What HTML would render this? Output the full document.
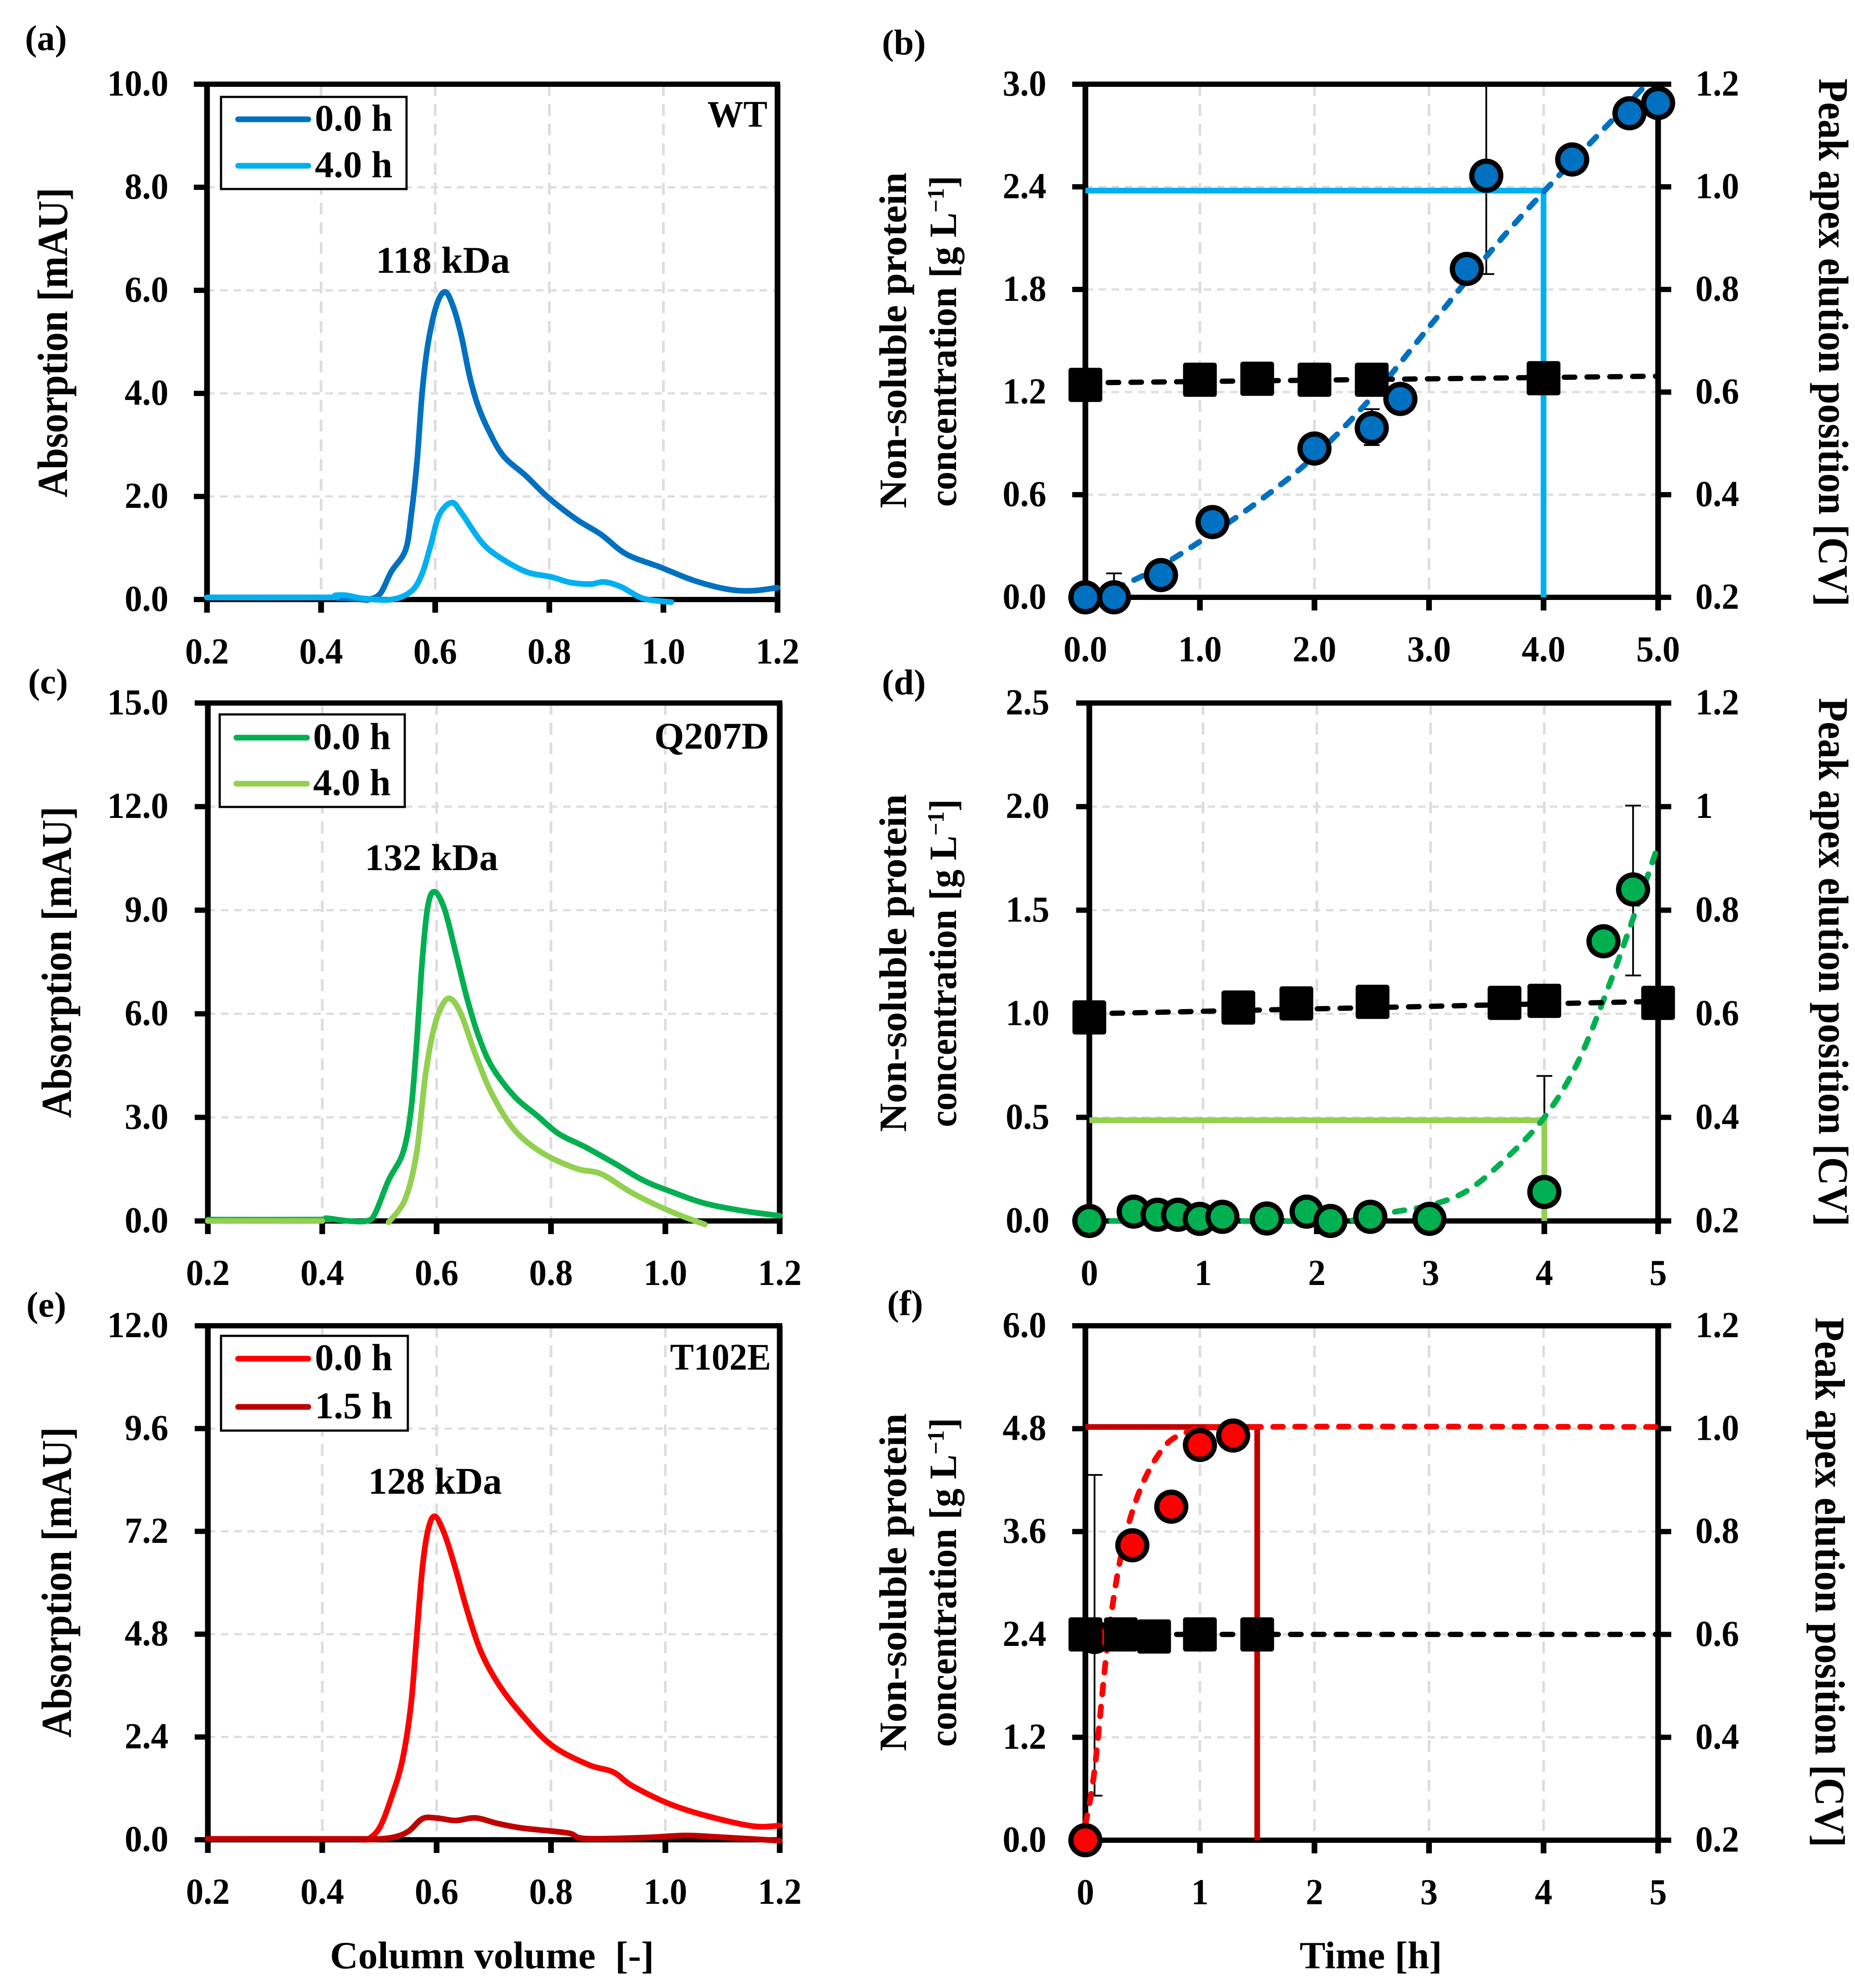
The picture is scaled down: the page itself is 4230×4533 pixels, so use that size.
<!DOCTYPE html>
<html lang="en">
<head>
<meta charset="utf-8">
<title>Protein aggregation chromatograms and kinetics</title>
<style>
html,body{margin:0;padding:0;background:#fff;}
svg{display:block;}
text{font-family:"Liberation Serif",serif;font-weight:bold;fill:#000;}
</style>
</head>
<body>
<svg id="figure" xmlns="http://www.w3.org/2000/svg" width="4230" height="4533" viewBox="0 0 4230 4533">
  <rect width="4230" height="4533" fill="#fff"/>
  <g id="plots"></g>

  <g font-size="82">
    <text x="57" y="114">(a)</text>
    <text x="2011" y="124">(b)</text>
    <text x="64" y="1581">(c)</text>
    <text x="2011" y="1583">(d)</text>
    <text x="60" y="3002">(e)</text>
    <text x="2023" y="2999">(f)</text>
  </g>

  <g>
    <rect x="504" y="221" width="423" height="210" fill="#fff" stroke="#000" stroke-width="5"/>
    <line x1="543" y1="272" x2="703" y2="272" stroke="#0070c0" stroke-width="13" stroke-linecap="round"/>
    <text x="718" y="298" font-size="86">0.0 h</text>
    <line x1="543" y1="378" x2="703" y2="378" stroke="#00b0f0" stroke-width="13" stroke-linecap="round"/>
    <text x="718" y="404" font-size="86">4.0 h</text>
  </g>
  <g>
    <rect x="501" y="1629" width="422" height="211" fill="#fff" stroke="#000" stroke-width="5"/>
    <line x1="539" y1="1682" x2="700" y2="1682" stroke="#00b050" stroke-width="13" stroke-linecap="round"/>
    <text x="714" y="1708" font-size="86">0.0 h</text>
    <line x1="539" y1="1787" x2="700" y2="1787" stroke="#92d050" stroke-width="13" stroke-linecap="round"/>
    <text x="714" y="1813" font-size="86">4.0 h</text>
  </g>
  <g>
    <rect x="504" y="3046" width="426" height="216" fill="#fff" stroke="#000" stroke-width="5"/>
    <line x1="543" y1="3098" x2="703" y2="3098" stroke="#ff0000" stroke-width="13" stroke-linecap="round"/>
    <text x="718" y="3124" font-size="86">0.0 h</text>
    <line x1="543" y1="3208" x2="703" y2="3208" stroke="#c00000" stroke-width="13" stroke-linecap="round"/>
    <text x="718" y="3234" font-size="86">1.5 h</text>
  </g>

  <g font-size="86">
    <text x="1750" y="289" text-anchor="end" textLength="137" lengthAdjust="spacingAndGlyphs">WT</text>
    <text x="1754" y="1707" text-anchor="end" textLength="262" lengthAdjust="spacingAndGlyphs">Q207D</text>
    <text x="1758" y="3123" text-anchor="end" textLength="230" lengthAdjust="spacingAndGlyphs">T102E</text>
    <text x="1010" y="622" text-anchor="middle" textLength="306" lengthAdjust="spacingAndGlyphs">118 kDa</text>
    <text x="984" y="1984" text-anchor="middle" textLength="304" lengthAdjust="spacingAndGlyphs">132 kDa</text>
    <text x="992" y="3406" text-anchor="middle" textLength="305" lengthAdjust="spacingAndGlyphs">128 kDa</text>
  </g>

  <g>
    <text transform="translate(153,781) rotate(-90)" text-anchor="middle" font-size="97" textLength="706" lengthAdjust="spacingAndGlyphs">Absorption [mAU]</text>
    <text transform="translate(162,2194) rotate(-90)" text-anchor="middle" font-size="97" textLength="710" lengthAdjust="spacingAndGlyphs">Absorption [mAU]</text>
    <text transform="translate(162,3608) rotate(-90)" text-anchor="middle" font-size="97" textLength="708" lengthAdjust="spacingAndGlyphs">Absorption [mAU]</text>

    <text transform="translate(2066,776) rotate(-90)" text-anchor="middle" font-size="88" textLength="766" lengthAdjust="spacingAndGlyphs">Non-soluble protein</text>
    <text transform="translate(2180,778) rotate(-90)" text-anchor="middle" font-size="88" textLength="755" lengthAdjust="spacingAndGlyphs">concentration [g L<tspan font-size="54" dy="-28">−1</tspan><tspan dy="28">]</tspan></text>
    <text transform="translate(2066,2196) rotate(-90)" text-anchor="middle" font-size="88" textLength="770" lengthAdjust="spacingAndGlyphs">Non-soluble protein</text>
    <text transform="translate(2180,2196) rotate(-90)" text-anchor="middle" font-size="88" textLength="748" lengthAdjust="spacingAndGlyphs">concentration [g L<tspan font-size="54" dy="-28">−1</tspan><tspan dy="28">]</tspan></text>
    <text transform="translate(2066,3608) rotate(-90)" text-anchor="middle" font-size="88" textLength="770" lengthAdjust="spacingAndGlyphs">Non-soluble protein</text>
    <text transform="translate(2180,3608) rotate(-90)" text-anchor="middle" font-size="88" textLength="750" lengthAdjust="spacingAndGlyphs">concentration [g L<tspan font-size="54" dy="-28">−1</tspan><tspan dy="28">]</tspan></text>

    <text transform="translate(4148,781) rotate(90)" text-anchor="middle" font-size="96" textLength="1204" lengthAdjust="spacingAndGlyphs">Peak apex elution position [CV]</text>
    <text transform="translate(4148,2194) rotate(90)" text-anchor="middle" font-size="96" textLength="1205" lengthAdjust="spacingAndGlyphs">Peak apex elution position [CV]</text>
    <text transform="translate(4140,3608) rotate(90)" text-anchor="middle" font-size="96" textLength="1208" lengthAdjust="spacingAndGlyphs">Peak apex elution position [CV]</text>

    <text x="1122" y="4488" text-anchor="middle" font-size="88" textLength="739" lengthAdjust="spacingAndGlyphs" xml:space="preserve">Column volume  [-]</text>
    <text x="3126" y="4488" text-anchor="middle" font-size="88" textLength="325" lengthAdjust="spacingAndGlyphs">Time [h]</text>
  </g>
</svg>

<script>
// ---------- Shared tick data ----------
const cvTicks = [0.2, 0.4, 0.6, 0.8, 1.0, 1.2];
const cvTickLabels = ['0.2', '0.4', '0.6', '0.8', '1.0', '1.2'];
const timeTicks = [0, 1, 2, 3, 4, 5];
const timeTickLabelsDecimal = ['0.0', '1.0', '2.0', '3.0', '4.0', '5.0'];
const timeTickLabelsInteger = ['0', '1', '2', '3', '4', '5'];
const peakTicks = [0.2, 0.4, 0.6, 0.8, 1.0, 1.2];
const peakTickLabels = ['0.2', '0.4', '0.6', '0.8', '1.0', '1.2'];
const peakTickLabelsD = ['0.2', '0.4', '0.6', '0.8', '1', '1.2'];

// ---------- Panel (a) ----------
const aYTicks = [0, 2, 4, 6, 8, 10];
const aYTickLabels = ['0.0', '2.0', '4.0', '6.0', '8.0', '10.0'];
const aCurve0X = [0.2, 0.4, 0.43, 0.47, 0.484, 0.504, 0.523, 0.548, 0.558, 0.568, 0.577, 0.587, 0.602, 0.617, 0.631, 0.646, 0.66, 0.675, 0.695, 0.72, 0.759, 0.798, 0.847, 0.891, 0.935, 0.994, 1.053, 1.112, 1.156, 1.2];
const aCurve0Y = [0.04, 0.04, 0.03, 0, 0, 0.12, 0.54, 0.96, 1.64, 2.66, 4.0, 4.94, 5.7, 5.97, 5.7, 5.11, 4.35, 3.76, 3.25, 2.78, 2.4, 1.98, 1.56, 1.26, 0.88, 0.63, 0.37, 0.2, 0.17, 0.23];
const aCurve4X = [0.2, 0.41, 0.425, 0.445, 0.475, 0.523, 0.558, 0.577, 0.592, 0.607, 0.629, 0.646, 0.68, 0.71, 0.759, 0.803, 0.837, 0.872, 0.896, 0.925, 0.965, 1.014];
const aCurve4Y = [0.04, 0.04, 0.08, 0.08, 0.02, 0, 0.16, 0.5, 1.05, 1.64, 1.88, 1.68, 1.13, 0.84, 0.54, 0.44, 0.33, 0.3, 0.34, 0.25, 0.02, -0.05];

// ---------- Panel (c) ----------
const cYTicks = [0, 3, 6, 9, 12, 15];
const cYTickLabels = ['0.0', '3.0', '6.0', '9.0', '12.0', '15.0'];
const cCurve0X = [0.2, 0.4, 0.407, 0.446, 0.477, 0.492, 0.516, 0.541, 0.555, 0.565, 0.575, 0.585, 0.597, 0.614, 0.633, 0.653, 0.673, 0.697, 0.736, 0.775, 0.814, 0.859, 0.912, 0.961, 1.01, 1.069, 1.137, 1.2];
const cCurve0Y = [0.04, 0.04, 0.08, 0, 0, 0.2, 1.18, 1.97, 3.18, 5.13, 7.56, 9.14, 9.53, 9.02, 7.8, 6.46, 5.37, 4.46, 3.61, 3.06, 2.52, 2.15, 1.66, 1.18, 0.85, 0.51, 0.29, 0.15];
const cCurve4X = [0.2, 0.4, 0.4, 0.516, 0.545, 0.565, 0.58, 0.594, 0.609, 0.624, 0.643, 0.668, 0.697, 0.736, 0.785, 0.844, 0.888, 0.942, 1.01, 1.069];
const cCurve4Y = [0, 0, null, -0.04, 0.63, 1.97, 4.16, 5.49, 6.22, 6.44, 5.98, 4.82, 3.67, 2.64, 1.97, 1.52, 1.36, 0.81, 0.27, -0.1];

// ---------- Panel (e) ----------
const eYTicks = [0, 2.4, 4.8, 7.2, 9.6, 12];
const eYTickLabels = ['0.0', '2.4', '4.8', '7.2', '9.6', '12.0'];
const eCurve0X = [0.2, 0.47, 0.482, 0.501, 0.521, 0.54, 0.555, 0.565, 0.575, 0.585, 0.597, 0.614, 0.633, 0.653, 0.677, 0.707, 0.746, 0.8, 0.864, 0.909, 0.942, 1.005, 1.069, 1.152, 1.2];
const eCurve0Y = [0.02, 0.02, 0.03, 0.3, 0.99, 1.85, 3.13, 4.73, 6.33, 7.23, 7.55, 7.13, 6.33, 5.37, 4.41, 3.66, 2.97, 2.22, 1.76, 1.58, 1.26, 0.85, 0.57, 0.32, 0.33];
const eCurve15X = [0.2, 0.46, 0.472, 0.521, 0.55, 0.575, 0.599, 0.633, 0.668, 0.707, 0.751, 0.829, 0.859, 0.961, 1.035, 1.098, 1.2];
const eCurve15Y = [0.02, 0.02, 0, 0.05, 0.19, 0.49, 0.51, 0.45, 0.51, 0.38, 0.27, 0.16, 0.03, 0.05, 0.1, 0.06, -0.02];

// ---------- Panel (b) ----------
const bYTicks = [0, 0.6, 1.2, 1.8, 2.4, 3.0];
const bYTickLabels = ['0.0', '0.6', '1.2', '1.8', '2.4', '3.0'];
const bConcTime = [0, 0.25, 0.66, 1.11, 2, 2.5, 2.75, 3.33, 3.5, 4.25, 4.75, 5];
const bConc = [0, 0, 0.13, 0.44, 0.87, 0.99, 1.16, 1.92, 2.465, 2.56, 2.83, 2.89];
const bErrTime = [0.25, 2, 2.5, 3.5];
const bErrHigh = [0.14, 0.9, 1.1, 3.04];
const bErrLow = [0, 0.84, 0.89, 1.89];
const bFitTime = [0.25, 0.6, 1.1, 1.55, 2, 2.5, 3, 3.56, 4, 4.5, 4.9];
const bFit = [0.05, 0.16, 0.37, 0.58, 0.825, 1.17, 1.58, 2.04, 2.37, 2.72, 3.0];
const bPeakTime = [0, 1, 1.5, 2, 2.5, 4];
const bPeak = [0.614, 0.624, 0.626, 0.624, 0.624, 0.627];
const bPeakFitTime = [0, 5];
const bPeakFit = [0.618, 0.631];
const bMarkerTime = [4];
const bMarkerConc = [2.378];

// ---------- Panel (d) ----------
const dYTicks = [0, 0.5, 1.0, 1.5, 2.0, 2.5];
const dYTickLabels = ['0.0', '0.5', '1.0', '1.5', '2.0', '2.5'];
const dConcTime = [0, 0.39, 0.6, 0.78, 0.97, 1.17, 1.56, 1.91, 2.12, 2.47, 2.99, 4, 4.52, 4.78];
const dConc = [0, 0.045, 0.03, 0.03, 0.01, 0.02, 0.012, 0.045, 0, 0.02, 0.01, 0.14, 1.35, 1.6];
const dErrTime = [4, 4.78];
const dErrHigh = [0.7, 2.005];
const dErrLow = [0.14, 1.185];
const dFitTime = [0, 1, 2, 2.5, 2.65, 2.99, 3.32, 3.66, 4, 4.28, 4.53, 4.78, 5.01];
const dFit = [0, 0, 0, 0.01, 0.04, 0.075, 0.145, 0.3, 0.5, 0.75, 1.08, 1.46, 1.83];
const dPeakTime = [0, 1.31, 1.82, 2.49, 3.65, 4, 5];
const dPeak = [0.593, 0.612, 0.62, 0.623, 0.621, 0.625, 0.621];
const dPeakFitTime = [0, 5];
const dPeakFit = [0.6, 0.624];
const dMarkerTime = [4];
const dMarkerConc = [0.486];

// ---------- Panel (f) ----------
const fYTicks = [0, 1.2, 2.4, 3.6, 4.8, 6.0];
const fYTickLabels = ['0.0', '1.2', '2.4', '3.6', '4.8', '6.0'];
const fConcTime = [0, 0.08, 0.41, 0.75, 1, 1.29];
const fConc = [0, 2.37, 3.44, 3.89, 4.61, 4.72];
const fErrTime = [0.08];
const fErrHigh = [4.26];
const fErrLow = [0.52];
const fFitTime = [0, 0.08, 0.22, 0.38, 0.61, 0.89, 1.5, 5];
const fFit = [0.18, 0.82, 2.58, 3.7, 4.44, 4.76, 4.82, 4.82];
const fPeakTime = [0, 0.31, 0.6, 1, 1.5];
const fPeak = [0.6, 0.6, 0.596, 0.6, 0.6];
const fPeakFitTime = [0, 5];
const fPeakFit = [0.6, 0.6];
const fMarkerTime = [1.5];
const fMarkerConc = [4.82];

// ---------- Drawing helpers ----------
const NS = 'http://www.w3.org/2000/svg';
const plots = document.getElementById('plots');

function make(parent, tag, attrs) {
  const el = document.createElementNS(NS, tag);
  for (const k in attrs) el.setAttribute(k, attrs[k]);
  parent.appendChild(el);
  return el;
}
function scale(d0, d1, r0, r1) {
  return function (v) { return r0 + (v - d0) / (d1 - d0) * (r1 - r0); };
}
function smoothPath(xs, ys, sx, sy) {
  let d = '';
  let run = [];
  function flush() {
    if (!run.length) return;
    d += 'M' + run[0][0].toFixed(1) + ' ' + run[0][1].toFixed(1);
    for (let i = 0; i < run.length - 1; i++) {
      const p0 = run[Math.max(i - 1, 0)], p1 = run[i], p2 = run[i + 1], p3 = run[Math.min(i + 2, run.length - 1)];
      const c1x = p1[0] + (p2[0] - p0[0]) / 6, c1y = p1[1] + (p2[1] - p0[1]) / 6;
      const c2x = p2[0] - (p3[0] - p1[0]) / 6, c2y = p2[1] - (p3[1] - p1[1]) / 6;
      d += 'C' + c1x.toFixed(1) + ' ' + c1y.toFixed(1) + ' ' + c2x.toFixed(1) + ' ' + c2y.toFixed(1) + ' ' + p2[0].toFixed(1) + ' ' + p2[1].toFixed(1);
    }
    run = [];
  }
  for (let i = 0; i < xs.length; i++) {
    if (ys[i] === null) { flush(); continue; }
    run.push([sx(xs[i]), sy(ys[i])]);
  }
  flush();
  return d;
}

function drawFrame(g, f, xTicks, xLabels, yTicks, yLabels, sx, sy, opts) {
  // gridlines
  yTicks.slice(1, -1).forEach(function (v) {
    const el = make(g, 'line', { x1: f.l, x2: f.r, y1: sy(v), y2: sy(v), stroke: '#dddddd', 'stroke-width': 5, 'stroke-dasharray': '17 13' });
    
    
  });
  xTicks.slice(1, -1).forEach(function (v) {
    const el = make(g, 'line', { x1: sx(v), x2: sx(v), y1: f.t, y2: f.b, stroke: '#dddddd', 'stroke-width': 6, 'stroke-dasharray': '27 18' });
    
    
  });
  // axis spines
  const overhangRight = opts.rightAxis ? 30 : 6;
  const top = make(g, 'line', { x1: f.l - 30, x2: f.r + overhangRight, y1: f.t, y2: f.t, stroke: '#000', 'stroke-width': 12 });
  
  
  const bottom = make(g, 'line', { x1: f.l - 30, x2: f.r + overhangRight, y1: f.b, y2: f.b, stroke: '#000', 'stroke-width': 12 });
  
  
  const left = make(g, 'line', { x1: f.l, x2: f.l, y1: f.t, y2: f.b + 30, stroke: '#000', 'stroke-width': 13 });
  
  
  const right = make(g, 'line', { x1: f.r, x2: f.r, y1: f.t, y2: f.b + 30, stroke: '#000', 'stroke-width': 13 });
  
  
  // ticks & labels
  yTicks.forEach(function (v, i) {
    const t = make(g, 'line', { x1: f.l - 30, x2: f.l, y1: sy(v), y2: sy(v), stroke: '#000', 'stroke-width': 12 });
    
    
    const lab = make(g, 'text', { transform: 'translate(' + opts.yLabelX + ' ' + (sy(v) + 26) + ') scale(0.95 1)', 'text-anchor': 'end', 'font-size': 84 });
    lab.textContent = yLabels[i];
    
    
  });
  xTicks.forEach(function (v, i) {
    const t = make(g, 'line', { x1: sx(v), x2: sx(v), y1: f.b, y2: f.b + 30, stroke: '#000', 'stroke-width': 13 });
    
    
    const lab = make(g, 'text', { transform: 'translate(' + sx(v) + ' ' + (f.b + 146) + ') scale(0.95 1)', 'text-anchor': 'middle', 'font-size': 84 });
    lab.textContent = xLabels[i];
    
    
  });
}

function drawChromatogram(name, f, yTicks, yLabels, series) {
  const g = make(plots, 'g', {});
  
  
  const sx = scale(cvTicks[0], cvTicks[cvTicks.length - 1], f.l, f.r);
  const sy = scale(yTicks[0], yTicks[yTicks.length - 1], f.b, f.t);
  drawFrame(g, f, cvTicks, cvTickLabels, yTicks, yLabels, sx, sy, { rightAxis: false, yLabelX: 384 });
  series.forEach(function (s) {
    const p = make(g, 'path', { d: smoothPath(s.x, s.y, sx, sy), fill: 'none', stroke: s.color, 'stroke-width': 13, 'stroke-linejoin': 'round', 'stroke-linecap': 'round' });
    
    
  });
}

let clipCount = 0;
function drawKinetics(name, f, cfg) {
  const g = make(plots, 'g', {});
  
  
  const sx = scale(timeTicks[0], timeTicks[timeTicks.length - 1], f.l, f.r);
  const sy = scale(cfg.yTicks[0], cfg.yTicks[cfg.yTicks.length - 1], f.b, f.t);
  const sr = scale(peakTicks[0], peakTicks[peakTicks.length - 1], f.b, f.t);
  drawFrame(g, f, timeTicks, cfg.xLabels, cfg.yTicks, cfg.yLabels, sx, sy, { rightAxis: true, yLabelX: cfg.yLabelX });

  // right axis
  peakTicks.forEach(function (v, i) {
    const t = make(g, 'line', { x1: f.r, x2: f.r + 30, y1: sr(v), y2: sr(v), stroke: '#000', 'stroke-width': 12 });
    
    
    const lab = make(g, 'text', { transform: 'translate(3866 ' + (sr(v) + 26) + ') scale(0.95 1)', 'text-anchor': 'start', 'font-size': 84 });
    lab.textContent = cfg.rightLabels[i];
    
    
  });

  // clip region
  clipCount += 1;
  const clipId = 'plot-clip-' + clipCount;
  const cp = make(g, 'clipPath', { id: clipId });
  
  
  const cr = make(cp, 'rect', { x: f.l - 10, y: f.t, width: f.r - f.l + 30, height: f.b - f.t + 10 });
  
  

  // error bars
  cfg.errTime.forEach(function (t, i) {
    const eg = make(g, 'g', { 'clip-path': 'url(#' + clipId + ')', stroke: '#000', 'stroke-width': 4 });
    
    
    const stem = make(eg, 'line', { x1: sx(t), x2: sx(t), y1: sy(cfg.errHigh[i]), y2: sy(cfg.errLow[i]) });
    
    
    const capHi = make(eg, 'line', { x1: sx(t) - 18, x2: sx(t) + 18, y1: sy(cfg.errHigh[i]), y2: sy(cfg.errHigh[i]) });
    
    
    const capLo = make(eg, 'line', { x1: sx(t) - 18, x2: sx(t) + 18, y1: sy(cfg.errLow[i]), y2: sy(cfg.errLow[i]) });
    
    
  });

  // threshold marker lines
  cfg.markerTime.forEach(function (t, i) {
    const mk = make(g, 'path', { d: 'M' + f.l + ' ' + sy(cfg.markerConc[i]) + 'L' + sx(t) + ' ' + sy(cfg.markerConc[i]) + 'L' + sx(t) + ' ' + f.b, fill: 'none', stroke: cfg.markerColor, 'stroke-width': 13 });
    
    
  });

  // fitted concentration curve
  const fit = make(g, 'path', { d: smoothPath(cfg.fitTime, cfg.fit, sx, sy), fill: 'none', stroke: cfg.color, 'stroke-width': 13, 'stroke-dasharray': '22 28', 'stroke-linecap': 'round', 'clip-path': 'url(#' + clipId + ')' });
  
  

  // peak position fit
  const pf = make(g, 'path', { d: smoothPath(cfg.peakFitTime, cfg.peakFit, sx, sr), fill: 'none', stroke: '#000', 'stroke-width': 12, 'stroke-dasharray': '24 28', 'stroke-linecap': 'round' });
  
  

  // concentration circles
  cfg.concTime.forEach(function (t, i) {
    const c = make(g, 'ellipse', { cx: sx(t), cy: sy(cfg.conc[i]), rx: 33, ry: 33, fill: cfg.color, stroke: '#000', 'stroke-width': 12 });
    
    
  });

  // peak position squares
  cfg.peakTime.forEach(function (t, i) {
    const sq = make(g, 'rect', { x: sx(t) - 38.5, y: sr(cfg.peak[i]) - 39, width: 77, height: 78, rx: 6, fill: '#000' });
    
    
  });
}

// ---------- Build panels ----------
drawChromatogram('panel-a-wt-chromatogram', { l: 472, r: 1773, t: 192, b: 1367 }, aYTicks, aYTickLabels, [
  { x: aCurve0X, y: aCurve0Y, color: '#0070c0' },
  { x: aCurve4X, y: aCurve4Y, color: '#00b0f0' }
]);
drawChromatogram('panel-c-q207d-chromatogram', { l: 474, r: 1778, t: 1603, b: 2784 }, cYTicks, cYTickLabels, [
  { x: cCurve0X, y: cCurve0Y, color: '#00b050' },
  { x: cCurve4X, y: cCurve4Y, color: '#92d050' }
]);
drawChromatogram('panel-e-t102e-chromatogram', { l: 474, r: 1778, t: 3023, b: 4195 }, eYTicks, eYTickLabels, [
  { x: eCurve0X, y: eCurve0Y, color: '#ff0000' },
  { x: eCurve15X, y: eCurve15Y, color: '#c00000' }
]);

drawKinetics('panel-b-wt-kinetics', { l: 2475, r: 3781, t: 192, b: 1362 }, {
  yTicks: bYTicks, yLabels: bYTickLabels, xLabels: timeTickLabelsDecimal, rightLabels: peakTickLabels, yLabelX: 2386,
  color: '#0070c0', markerColor: '#00b0f0',
  concTime: bConcTime, conc: bConc, errTime: bErrTime, errHigh: bErrHigh, errLow: bErrLow,
  fitTime: bFitTime, fit: bFit, peakTime: bPeakTime, peak: bPeak, peakFitTime: bPeakFitTime, peakFit: bPeakFit,
  markerTime: bMarkerTime, markerConc: bMarkerConc
});
drawKinetics('panel-d-q207d-kinetics', { l: 2484, r: 3781, t: 1603, b: 2784 }, {
  yTicks: dYTicks, yLabels: dYTickLabels, xLabels: timeTickLabelsInteger, rightLabels: peakTickLabelsD, yLabelX: 2393,
  color: '#00b050', markerColor: '#92d050',
  concTime: dConcTime, conc: dConc, errTime: dErrTime, errHigh: dErrHigh, errLow: dErrLow,
  fitTime: dFitTime, fit: dFit, peakTime: dPeakTime, peak: dPeak, peakFitTime: dPeakFitTime, peakFit: dPeakFit,
  markerTime: dMarkerTime, markerConc: dMarkerConc
});
drawKinetics('panel-f-t102e-kinetics', { l: 2475, r: 3781, t: 3023, b: 4196 }, {
  yTicks: fYTicks, yLabels: fYTickLabels, xLabels: timeTickLabelsInteger, rightLabels: peakTickLabels, yLabelX: 2386,
  color: '#ff0000', markerColor: '#c00000',
  concTime: fConcTime, conc: fConc, errTime: fErrTime, errHigh: fErrHigh, errLow: fErrLow,
  fitTime: fFitTime, fit: fFit, peakTime: fPeakTime, peak: fPeak, peakFitTime: fPeakFitTime, peakFit: fPeakFit,
  markerTime: fMarkerTime, markerConc: fMarkerConc
});
</script>
</body>
</html>
